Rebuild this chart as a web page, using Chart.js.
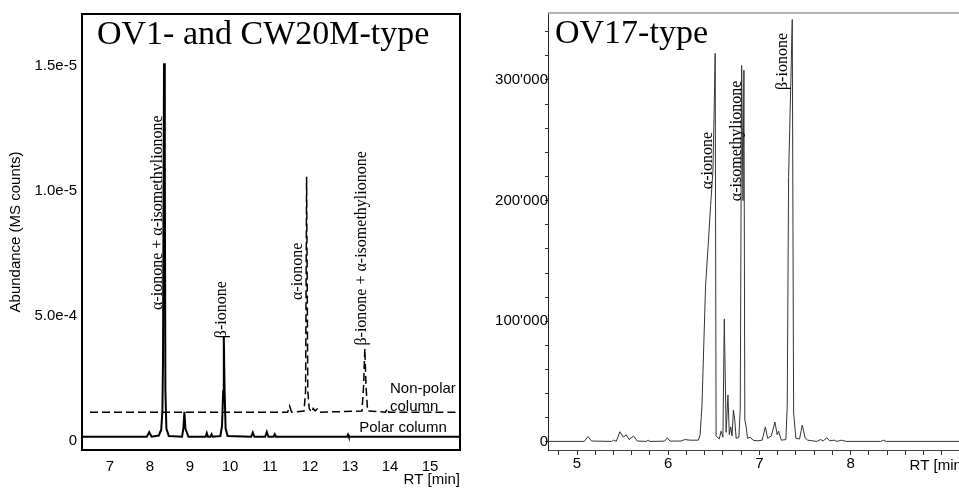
<!DOCTYPE html>
<html>
<head>
<meta charset="utf-8">
<script src="https://cdn.jsdelivr.net/npm/chart.js@4.4.0/dist/chart.umd.min.js"></script>
<style>
  html, body { margin: 0; padding: 0; background: #fff; overflow: hidden; }
  #wrap { position: relative; width: 959px; height: 489px; overflow: hidden; }
  #left { position: absolute; left: 0; top: 0; }
  #right { position: absolute; left: 480px; top: 0; }
</style>
</head>
<body>
<div id="wrap">
  <canvas id="left" width="480" height="489"></canvas>
  <canvas id="right" width="486" height="489"></canvas>
</div>
<script>
// Left panel: OV1 / CW20M chromatograms (polar solid, non-polar dashed and offset)
const polarRT = [6.3, 7.92, 7.98, 8.04, 8.22, 8.28, 8.31, 8.325, 8.35, 8.37, 8.385, 8.41, 8.47,
  8.8, 8.835, 8.86, 8.885, 8.92, 8.96, 9.39, 9.42, 9.45, 9.51, 9.54, 9.57,
  9.76, 9.8, 9.83, 9.845, 9.865, 9.89, 9.94, 10.53, 10.57, 10.61, 10.88, 10.92, 10.96,
  11.09, 11.12, 11.15, 12.93, 12.95, 12.97, 15.75];
const polarAbund = [0.17, 0.17, 0.35, 0.17, 0.22, 0.45, 1.2, 3.2, 15.1, 11.2, 2.0, 0.5, 0.2,
  0.17, 0.5, 1.17, 0.5, 0.35, 0.17, 0.17, 0.32, 0.17, 0.17, 0.27, 0.17,
  0.2, 0.6, 2.0, 4.17, 2.0, 0.5, 0.2, 0.17, 0.34, 0.17, 0.17, 0.36, 0.17,
  0.17, 0.27, 0.17, 0.17, 0.25, 0.17, 0.17];

const nonPolarRT = [6.5, 11.44, 11.49, 11.54, 11.85, 11.89, 11.915, 11.945, 11.98, 12.04, 12.08,
  12.13, 12.18, 12.25, 13.3, 13.34, 13.37, 13.4, 13.44, 13.89, 13.93, 13.97, 15.75];
const nonPolarAbund = [1.15, 1.15, 1.4, 1.15, 1.2, 2.0, 10.56, 2.0, 1.3, 1.15, 1.3,
  1.2, 1.28, 1.15, 1.2, 2.2, 3.7, 2.2, 1.2, 1.15, 1.3, 1.15, 1.15];

const leftXTicks = [7, 8, 9, 10, 11, 12, 13, 14, 15];
const leftYTicks = [0, 5, 10, 15];
const leftYTickLabels = ['0', '5.0e-4', '1.0e-5', '1.5e-5'];

const leftPeakNames = ['α-ionone + α-isomethylionone', 'β-ionone', 'α-ionone', 'β-ionone + α-isomethylionone'];
const leftPeakNameRT = [8.2, 9.8, 11.7, 13.3];
const leftPeakNameY = [9.13, 5.25, 6.78, 7.7];

const leftNotes = ['Non-polar', 'column', 'Polar column'];
const leftNoteRT = [14.0, 14.0, 13.23];
const leftNoteY = [2.07, 1.36, 0.52];

// Right panel: OV17-type chromatogram
const ov17RT = [4.68, 5.08, 5.12, 5.16, 5.38, 5.4, 5.43, 5.47, 5.51, 5.54, 5.57, 5.62, 5.66,
  5.76, 5.78, 5.8, 5.96, 5.99, 6.02, 6.14, 6.18, 6.24, 6.33, 6.35, 6.37, 6.39, 6.41,
  6.44, 6.465, 6.49, 6.505, 6.515, 6.525, 6.56, 6.58, 6.6, 6.615, 6.635, 6.655, 6.67,
  6.685, 6.7, 6.715, 6.73, 6.745, 6.775, 6.79, 6.805, 6.82, 6.83, 6.84, 6.855, 6.87,
  6.9, 6.93, 6.98, 7.03, 7.065, 7.09, 7.13, 7.17, 7.195, 7.21, 7.24, 7.29, 7.305,
  7.32, 7.345, 7.36, 7.375, 7.4, 7.44, 7.47, 7.5, 7.53, 7.63, 7.67, 7.7, 7.74, 7.77,
  7.82, 7.85, 7.9, 7.95, 8.33, 8.36, 8.39, 9.3];
const ov17Abund = [500, 500, 4500, 800, 500, 1500, 500, 8500, 4000, 6000, 2000, 5000, 800,
  500, 1500, 500, 700, 3500, 700, 800, 2000, 1500, 1500, 6000, 30000, 80000, 130000,
  165000, 196000, 224000, 280000, 322000, 5000, 2500, 9000, 4000, 102000, 8000, 39000, 6000,
  12500, 5000, 26500, 18000, 3000, 4000, 28000, 312000, 200000, 308000, 18000, 12500, 3000,
  4000, 1500, 1000, 1500, 12500, 3000, 5000, 16500, 6000, 9000, 1500, 2000, 30000,
  220000, 300000, 350000, 24000, 3000, 2500, 14000, 3500, 1500, 500, 2000, 1000, 3500, 1000,
  1500, 500, 1500, 500, 500, 1500, 500, 500];

const rightXTicksLabelled = [5, 6, 7, 8];
const rightYTicksLabelled = [0, 100000, 200000, 300000];
const rightYMinorStep = 20000;

const rightPeakNames = ['α-ionone', 'α-isomethylionone', 'β-ionone'];
const rightPeakNameRT = [6.436, 6.754, 7.253];
const rightPeakNameY = [233200, 249400, 315200];

Chart.defaults.font.family = "'Liberation Sans', Arial, sans-serif";
Chart.defaults.color = '#000';

function toPoints(xs, ys) {
  return xs.map(function (x, i) { return { x: x, y: ys[i] }; });
}

function withApostrophes(v) {
  return String(v).replace(/\B(?=(\d{3})+(?!\d))/g, "'");
}

// Text drawn inside the plot: panel title, rotated peak names, notes
const panelText = {
  id: 'panelText',
  afterDatasetsDraw(chart, args, opts) {
    const ctx = chart.ctx;
    const area = chart.chartArea;
    const xs = chart.scales.x;
    const ys = chart.scales.y;
    ctx.save();
    ctx.fillStyle = '#000';

    ctx.font = '34px "Liberation Serif", "Times New Roman", serif';
    ctx.textAlign = 'left';
    ctx.textBaseline = 'alphabetic';
    ctx.fillText(opts.title, area.left + opts.titleDx, area.top + 30);

    ctx.font = '16px "Liberation Serif", "Times New Roman", serif';
    ctx.textAlign = 'center';
    ctx.textBaseline = 'middle';
    opts.names.forEach(function (name, i) {
      ctx.save();
      ctx.translate(xs.getPixelForValue(opts.nameRT[i]), ys.getPixelForValue(opts.nameY[i]));
      ctx.rotate(-Math.PI / 2);
      ctx.fillText(name, 0, 0);
      ctx.restore();
    });

    ctx.font = '15px "Liberation Sans", Arial, sans-serif';
    ctx.textAlign = 'left';
    (opts.notes || []).forEach(function (note, i) {
      ctx.fillText(note, xs.getPixelForValue(opts.noteRT[i]), ys.getPixelForValue(opts.noteY[i]));
    });
    ctx.restore();
  }
};

// Box / top edge around the plot area
const frame = {
  id: 'frame',
  afterDraw(chart, args, opts) {
    const ctx = chart.ctx;
    const a = chart.chartArea;
    ctx.save();
    ctx.strokeStyle = opts.color;
    ctx.lineWidth = opts.width;
    if (opts.full) {
      ctx.strokeRect(a.left, a.top, a.right - a.left, a.bottom - a.top);
    } else {
      ctx.beginPath();
      ctx.moveTo(a.left, a.top);
      ctx.lineTo(a.right, a.top);
      ctx.stroke();
    }
    ctx.restore();
  }
};

// Creating the left chart
const leftChart = new Chart(document.getElementById('left'), {
  type: 'line',
  data: {
    datasets: [
      { label: 'Polar column', data: toPoints(polarRT, polarAbund), borderColor: '#000', borderWidth: 2, pointRadius: 0, tension: 0 },
      { label: 'Non-polar column', data: toPoints(nonPolarRT, nonPolarAbund), borderColor: '#000', borderWidth: 1.5, borderDash: [8, 4], pointRadius: 0, tension: 0 }
    ]
  },
  options: {
    responsive: false,
    animation: false,
    layout: { padding: { top: 13, right: 20, left: 0, bottom: 0 } },
    plugins: {
      legend: { display: false },
      tooltip: { enabled: false },
      panelText: {
        title: 'OV1- and CW20M-type', titleDx: 15,
        names: leftPeakNames, nameRT: leftPeakNameRT, nameY: leftPeakNameY,
        notes: leftNotes, noteRT: leftNoteRT, noteY: leftNoteY
      },
      frame: { full: true, color: '#000', width: 2 }
    },
    scales: {
      x: {
        type: 'linear',
        min: 6.3,
        max: 15.75,
        grid: { display: false, drawTicks: false },
        border: { display: false },
        afterBuildTicks: function (s) { s.ticks = leftXTicks.map(function (v) { return { value: v }; }); },
        afterFit: function (s) { s.height = 39; },
        ticks: { font: { size: 15 }, padding: 8, maxRotation: 0 },
        title: { display: true, text: 'RT [min]', align: 'end', font: { size: 15 }, padding: { top: 0, bottom: 0 } }
      },
      y: {
        type: 'linear',
        min: -0.36,
        max: 17.07,
        grid: { display: false, drawTicks: false },
        border: { display: false },
        afterBuildTicks: function (s) { s.ticks = leftYTicks.map(function (v) { return { value: v }; }); },
        afterFit: function (s) { s.width = 82; },
        ticks: {
          font: { size: 15 },
          padding: 5,
          callback: function (value, index) { return leftYTickLabels[index]; }
        },
        title: { display: true, text: 'Abundance (MS counts)', font: { size: 15 }, padding: { top: 7, bottom: 0 } }
      }
    }
  },
  plugins: [panelText, frame]
});

// Creating the right chart
const rightChart = new Chart(document.getElementById('right'), {
  type: 'line',
  data: {
    datasets: [
      { label: 'OV17-type', data: toPoints(ov17RT, ov17Abund), borderColor: '#333', borderWidth: 1, pointRadius: 0, tension: 0 }
    ]
  },
  options: {
    responsive: false,
    animation: false,
    layout: { padding: { top: 13, right: 0, left: 0, bottom: 0 } },
    plugins: {
      legend: { display: false },
      tooltip: { enabled: false },
      panelText: {
        title: 'OV17-type', titleDx: 7,
        names: rightPeakNames, nameRT: rightPeakNameRT, nameY: rightPeakNameY
      },
      frame: { full: false, color: '#999', width: 1.5 }
    },
    scales: {
      x: {
        type: 'linear',
        min: 4.682,
        max: 9.265,
        grid: { display: true, drawOnChartArea: false, drawTicks: true, tickLength: 5, color: '#333' },
        border: { display: true, color: '#444', width: 1 },
        afterFit: function (s) { s.height = 39; },
        ticks: {
          stepSize: 0.2,
          includeBounds: false,
          font: { size: 15 },
          padding: 0,
          maxRotation: 0,
          autoSkip: false,
          callback: function (value) {
            const r = Math.round(value);
            return (Math.abs(value - r) < 1e-6 && rightXTicksLabelled.indexOf(r) >= 0) ? String(r) : '';
          }
        },
        title: { display: true, text: 'RT [min]', align: 'end', font: { size: 15 }, padding: { top: 0, bottom: 14 } }
      },
      y: {
        type: 'linear',
        min: -6630,
        max: 355400,
        grid: { display: true, drawOnChartArea: false, drawTicks: true, tickLength: 3, color: '#333' },
        border: { display: true, color: '#222', width: 1 },
        afterBuildTicks: function (s) {
          const ticks = [];
          for (let v = 0; v <= s.max; v += rightYMinorStep) ticks.push({ value: v });
          s.ticks = ticks;
        },
        afterFit: function (s) { s.width = 68; },
        ticks: {
          autoSkip: false,
          font: { size: 15 },
          padding: -3,
          callback: function (value) {
            return rightYTicksLabelled.indexOf(value) >= 0 ? withApostrophes(value) : '';
          }
        }
      }
    }
  },
  plugins: [panelText, frame]
});
</script>
</body>
</html>
